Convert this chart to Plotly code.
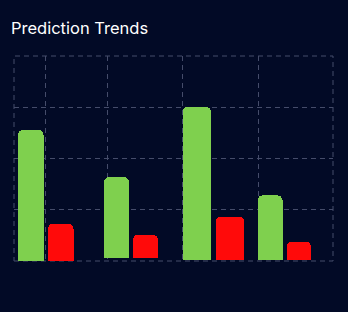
import plotly.graph_objects as go

# ---- data ----
periods = ["P1", "P2", "P3", "P4"]
predicted = [63.9, 40.9, 75.2, 32.0]     # green series (top value)
actual = [18.2, 12.8, 21.7, 9.4]         # red series (top value)
bar_base = [0.0, 1.3, 0.6, 0.6]          # base offset of each pair
x_grid = [0, 31, 93, 168, 244, 319]      # vertical grid positions

# ---- layout positions (x units along the axis) ----
green_x = [16.75, 102.5, 182.75, 256.0]
red_x = [46.75, 131.5, 216.0, 284.75]
green_w = [25.5, 25, 28.5, 25]
red_w = [25.5, 25, 28, 24.5]

GREEN = "#7fd04e"
RED = "#ff0a0a"
BG = "#020a26"
GRID = "#454c6a"
DASH = "5px,4px"

fig = go.Figure()
# transparent offset segments under each bar (bars float slightly above 0)
fig.add_trace(go.Bar(
    x=green_x + red_x, y=bar_base + bar_base, width=green_w + red_w,
    marker=dict(color="rgba(0,0,0,0)", line=dict(width=0)),
    hoverinfo="skip", showlegend=False,
))
fig.add_trace(go.Bar(
    x=green_x, y=[p - b for p, b in zip(predicted, bar_base)],
    width=green_w, name="Predicted",
    marker=dict(color=GREEN, line=dict(width=0)),
    customdata=periods, hovertemplate="%{customdata}: %{y}<extra></extra>",
))
fig.add_trace(go.Bar(
    x=red_x, y=[a - b for a, b in zip(actual, bar_base)],
    width=red_w, name="Actual",
    marker=dict(color=RED, line=dict(width=0)),
    customdata=periods, hovertemplate="%{customdata}: %{y}<extra></extra>",
))

fig.update_layout(
    width=348, height=312,
    margin=dict(l=14, r=15, t=56, b=51),
    paper_bgcolor=BG, plot_bgcolor=BG,
    barmode="stack", barcornerradius=5,
    showlegend=False,
    title=dict(text="Prediction Trends", x=11 / 348, xanchor="left",
               y=1 - 28 / 312, yanchor="middle",
               font=dict(family="Inter", size=16.5, color="#ffffff")),
    font=dict(family="Inter", color="#ffffff"),
    shapes=[dict(type="rect", xref="paper", yref="paper", x0=0, x1=1, y0=0, y1=1,
                 line=dict(color=GRID, width=1, dash=DASH), layer="below")],
)
fig.update_xaxes(range=[0, 319], tickvals=x_grid, showticklabels=False,
                 showgrid=True, gridcolor=GRID, griddash=DASH, gridwidth=1,
                 zeroline=False, showline=False, ticks="")
fig.update_yaxes(range=[0, 100], tickvals=[0, 25, 50, 75, 100], showticklabels=False,
                 showgrid=True, gridcolor=GRID, griddash=DASH, gridwidth=1,
                 zeroline=False, showline=False, ticks="")

fig.write_html("out.html")
